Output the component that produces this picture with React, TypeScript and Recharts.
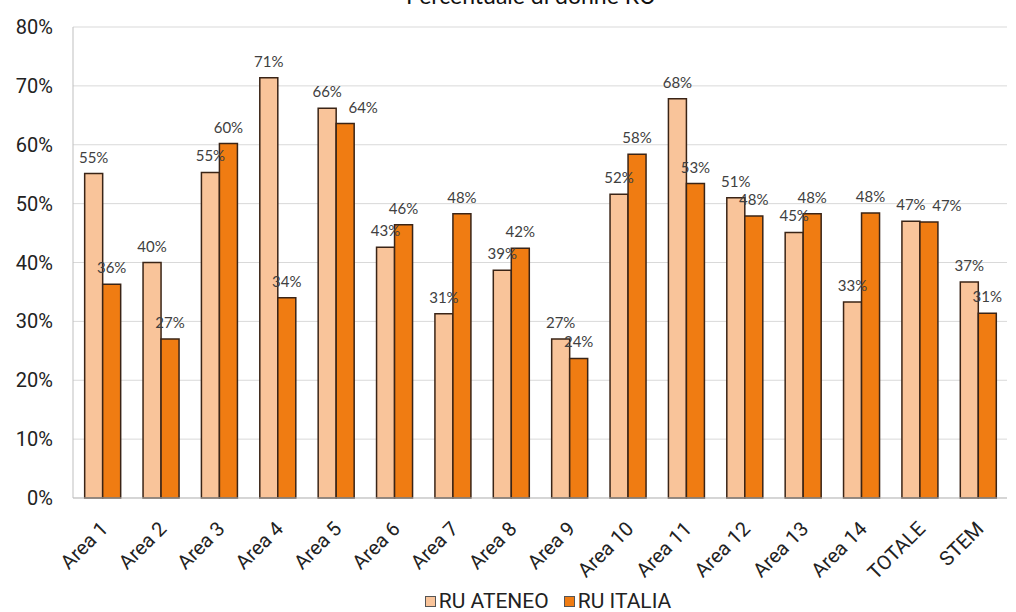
import { BarChart, Bar, XAxis, YAxis, CartesianGrid, Legend, LabelList } from "recharts";

// categorie e valori (percentuale di donne RU)
const areas = [
    "Area 1", "Area 2", "Area 3", "Area 4", "Area 5", "Area 6", "Area 7", "Area 8",
    "Area 9", "Area 10", "Area 11", "Area 12", "Area 13", "Area 14", "TOTALE", "STEM",
];
const ruAteneo = [55.1, 40.0, 55.3, 71.4, 66.2, 42.6, 31.3, 38.7, 27.0, 51.6, 67.8, 51.0, 45.1, 33.3, 47.0, 36.7];
const ruItalia = [36.3, 27.0, 60.2, 34.0, 63.6, 46.4, 48.3, 42.4, 23.7, 58.4, 53.4, 47.9, 48.3, 48.4, 46.9, 31.4];
const yTicks = [0, 10, 20, 30, 40, 50, 60, 70, 80];

const data = areas.map((area, i) => ({ area, ateneo: ruAteneo[i], italia: ruItalia[i] }));

const LIGHT = "#F9C49A";
const DARK = "#F07C12";
const EDGE = "#3A2416";

const labelFont = "Lato, sans-serif";

// etichetta sopra la barra; se si sovrappone a quella accanto la sposta a destra
const makeLabel = (series: "ateneo" | "italia") => (props: any) => {
    const { x, y, width, value, index } = props;
    const other = series === "italia" ? ruAteneo[index] : null;
    const nudge = other !== null && Math.abs(other - value) < 3 ? 18 : 0;
    return (
        <text
            x={Number(x) + Number(width) / 2 + nudge}
            y={Number(y) - 11}
            textAnchor="middle"
            fontFamily={labelFont}
            fontSize={15}
            fill="#404040"
        >
            {`${Math.round(value)}%`}
        </text>
    );
};

const renderLegend = (props: any) => {
    const { payload } = props;
    return (
        <div style={{ display: "flex", justifyContent: "center", paddingLeft: 104, fontFamily: "Roboto, sans-serif", fontSize: 21, color: "#222", lineHeight: "22px" }}>
            {payload.map((entry: any) => (
                <span key={entry.value} style={{ display: "inline-flex", alignItems: "center", marginRight: 15 }}>
                    <span style={{ display: "inline-block", width: 9, height: 9, background: entry.color, border: "1.5px solid #555", marginRight: 3 }} />
                    {entry.value}
                </span>
            ))}
        </div>
    );
};

export default function App() {
    return (
        <div style={{ position: "absolute", left: 0, top: 0, width: 1016, height: 612, background: "#fff", overflow: "hidden" }}>
            <div
                style={{
                    position: "absolute",
                    left: 0,
                    width: 1062,
                    top: -19,
                    textAlign: "center",
                    fontFamily: "Lato, sans-serif",
                    fontSize: 23,
                    color: "#111",
                    whiteSpace: "nowrap",
                }}
            >
                Percentuale di donne RU
            </div>
            <BarChart
                width={1016}
                height={612}
                data={data}
                margin={{ top: 27, right: 9, left: 0, bottom: 0 }}
                barCategoryGap="20%"
                barGap={0}
            >
                <CartesianGrid vertical={false} stroke="#d9d9d9" />
                <XAxis
                    dataKey="area"
                    interval={0}
                    angle={-45}
                    textAnchor="end"
                    height={92}
                    tickLine={false}
                    axisLine={{ stroke: "#bfbfbf" }}
                    tick={{ fontFamily: "Roboto, sans-serif", fontSize: 20, fill: "#222" }}
                    dy={14}
                    dx={-3}
                />
                <YAxis
                    width={73}
                    domain={[0, 80]}
                    ticks={yTicks}
                    tickFormatter={(v: number) => `${v}%`}
                    tickLine={false}
                    axisLine={{ stroke: "#bfbfbf" }}
                    tick={{ fontFamily: "Roboto, sans-serif", fontSize: 20, fill: "#222" }}
                    dx={-12}
                />
                <Legend verticalAlign="bottom" content={renderLegend} />
                <Bar dataKey="ateneo" name="RU ATENEO" fill={LIGHT} stroke={EDGE} strokeWidth={1.5} isAnimationActive={false}>
                    <LabelList dataKey="ateneo" content={makeLabel("ateneo")} />
                </Bar>
                <Bar dataKey="italia" name="RU ITALIA" fill={DARK} stroke={EDGE} strokeWidth={1.5} isAnimationActive={false}>
                    <LabelList dataKey="italia" content={makeLabel("italia")} />
                </Bar>
            </BarChart>
        </div>
    );
}
